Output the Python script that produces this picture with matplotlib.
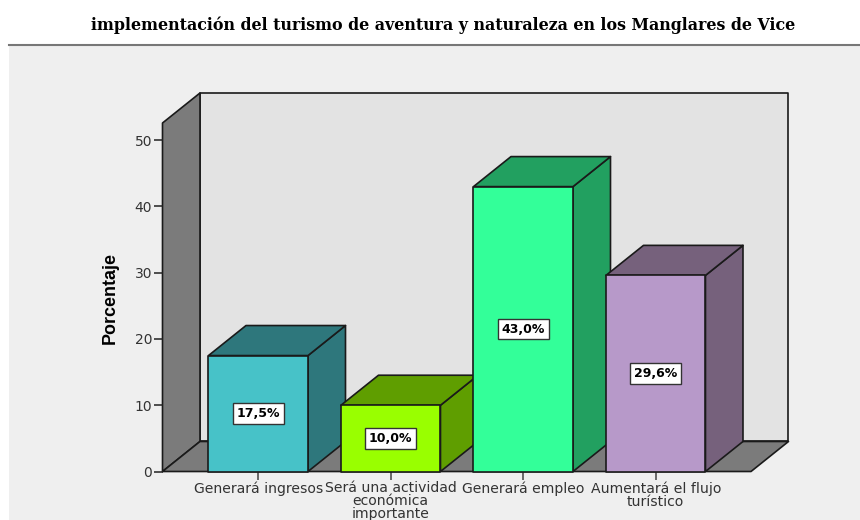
#!/usr/bin/env python3
import matplotlib
matplotlib.use("Agg")
import matplotlib.pyplot as plt
from matplotlib.patches import Polygon, Rectangle
from matplotlib.lines import Line2D

title = "implementación del turismo de aventura y naturaleza en los Manglares de Vice"
categories = ["Generará ingresos", "Será una actividad\neconómica\nimportante",
              "Generará empleo", "Aumentará el flujo\nturístico"]
values = [17.5, 10.0, 43.0, 29.6]
value_labels = ["17,5%", "10,0%", "43,0%", "29,6%"]
yticks = [0, 10, 20, 30, 40, 50]
front_colors = ["#47C2C8", "#99FF00", "#33FF99", "#B799C9"]
dark_colors = ["#2E777C", "#5F9E00", "#22A060", "#76617C"]

W, H = 860, 520
# front plane of the box in pixels
L, R, T, B = 162.5, 751, 123, 471.5
YMAX = 52.6
XMIN, XMAX = -0.7226, 3.719
BAR_W = 0.751
DX, DY = 0.283, 4.53  # depth offset of the fake 3d, data units

fig = plt.figure(figsize=(W / 100, H / 100), dpi=100, facecolor="white")
fig.add_artist(Rectangle((9 / W, 0), 1 - 9 / W, 1 - 45 / H, transform=fig.transFigure,
                         facecolor="#EFEFEF", edgecolor="none", zorder=-2))
fig.add_artist(Line2D([9 / W, 1], [1 - 44.5 / H] * 2, color="#777777", lw=1.5, zorder=-1))
fig.text(443 / W, 1 - 25 / H, title, ha="center", va="center", family="DejaVu Serif",
         fontweight="bold", fontsize=11.45, color="black")

ax = fig.add_axes([L / W, 1 - B / H, (R - L) / W, (B - T) / H])
ax.set_xlim(XMIN, XMAX)
ax.set_ylim(0, YMAX)
ax.patch.set_visible(False)
for s in ax.spines.values():
    s.set_visible(False)


def poly(pts, fc, z, lw=1.2):
    ax.add_patch(Polygon(pts, closed=True, facecolor=fc, edgecolor="#1A1A1A", lw=lw,
                         joinstyle="round", clip_on=False, zorder=z))


# walls
poly([(XMIN + DX, DY), (XMAX + DX, DY), (XMAX + DX, YMAX + DY), (XMIN + DX, YMAX + DY)], "#E3E3E3", 1)
poly([(XMIN, 0), (XMIN + DX, DY), (XMIN + DX, YMAX + DY), (XMIN, YMAX)], "#7B7B7B", 1.1)
poly([(XMIN, 0), (XMAX, 0), (XMAX + DX, DY), (XMIN + DX, DY)], "#7B7B7B", 1.2)

# bars, left to right so each one covers the side of the previous
for i, (v, fc, dc, lab) in enumerate(zip(values, front_colors, dark_colors, value_labels)):
    x0, x1 = i - BAR_W / 2, i + BAR_W / 2
    z = 2 + i * 0.1
    poly([(x1, 0), (x1 + DX, DY), (x1 + DX, v + DY), (x1, v)], dc, z)
    poly([(x0, v), (x1, v), (x1 + DX, v + DY), (x0 + DX, v + DY)], dc, z)
    poly([(x0, 0), (x1, 0), (x1, v), (x0, v)], fc, z + 0.01)
    ax.text(i, v / 2, lab, ha="center", va="center", fontsize=9, fontweight="bold",
            color="black", zorder=5, clip_on=False,
            bbox=dict(boxstyle="square,pad=0.3", facecolor="white", edgecolor="#333333", lw=1))

ax.set_yticks(yticks)
ax.set_xticks(range(len(categories)))
ax.set_xticklabels(categories, fontsize=10.1, color="#333333", linespacing=0.87)
ax.tick_params(axis="y", length=6.5, width=1.1, color="#222222", labelsize=10,
               labelcolor="#333333", pad=1)
ax.tick_params(axis="x", length=5.5, width=1.1, color="#444444", pad=1.7)

fig.text(110.5 / W, 1 - 297.5 / H, "Porcentaje", rotation=90, ha="center", va="center",
         family="Liberation Sans", fontweight="bold", fontsize=12.9, color="black")

fig.savefig("out.png", dpi=100)
